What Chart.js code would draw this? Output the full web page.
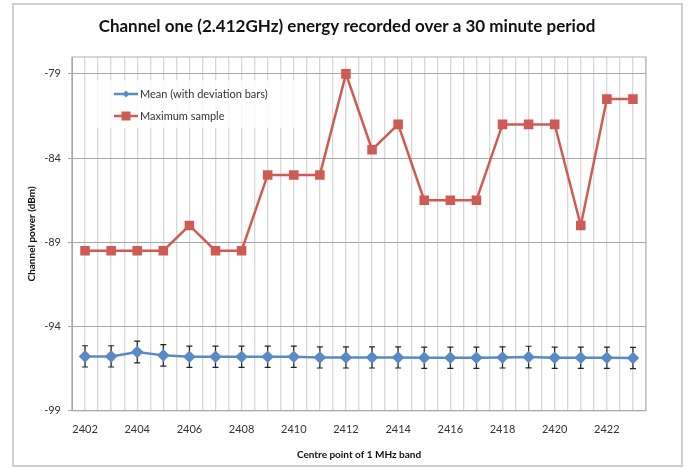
<!DOCTYPE html>
<html>
<head>
<meta charset="utf-8">
<script src="https://cdn.jsdelivr.net/npm/chart.js@4.4.1/dist/chart.umd.min.js"></script>
<style>
  html, body { margin: 0; padding: 0; background: #fff; }
  .wrap { width: 694px; height: 468px; position: relative; }
</style>
</head>
<body>
<div class="wrap"><canvas id="chan"></canvas></div>
<script>
const bands = [2402, 2403, 2404, 2405, 2406, 2407, 2408, 2409, 2410, 2411, 2412,
  2413, 2414, 2415, 2416, 2417, 2418, 2419, 2420, 2421, 2422, 2423];
const meanPower = [-95.77, -95.77, -95.51, -95.71, -95.79, -95.79, -95.79, -95.79, -95.79, -95.83, -95.83,
  -95.83, -95.83, -95.85, -95.85, -95.85, -95.83, -95.81, -95.85, -95.85, -95.85, -95.87];
const deviation = [0.63, 0.63, 0.65, 0.64, 0.63, 0.63, 0.63, 0.63, 0.63, 0.63, 0.63,
  0.63, 0.63, 0.63, 0.63, 0.63, 0.63, 0.64, 0.63, 0.63, 0.63, 0.63];
const maxSample = [-89.5, -89.5, -89.5, -89.5, -88, -89.5, -89.5, -85, -85, -85, -79,
  -83.5, -82, -86.5, -86.5, -86.5, -82, -82, -82, -88, -80.5, -80.5];
const yTicks = [-99, -94, -89, -84, -79];
const xLabels = [2402, 2404, 2406, 2408, 2410, 2412, 2414, 2416, 2418, 2420, 2422];

const chartTitle = 'Channel one (2.412GHz) energy recorded over a 30 minute period';
const seriesNames = ['Mean (with deviation bars)', 'Maximum sample'];
const blue = '#5a8ac6';
const red = '#cf5b55';
const font = 'Lato, "Open Sans", sans-serif';

// error bars behind the mean markers
const errorBars = {
  id: 'errorBars',
  beforeDatasetsDraw(chart) {
    const ctx = chart.ctx;
    const y = chart.scales.y;
    const meta = chart.getDatasetMeta(0);
    ctx.save();
    ctx.strokeStyle = '#222';
    ctx.lineWidth = 1.2;
    meta.data.forEach((pt, i) => {
      const top = y.getPixelForValue(meanPower[i] + deviation[i]);
      const bot = y.getPixelForValue(meanPower[i] - deviation[i]);
      ctx.beginPath();
      ctx.moveTo(pt.x, top); ctx.lineTo(pt.x, bot);
      ctx.moveTo(pt.x - 3, top); ctx.lineTo(pt.x + 3, top);
      ctx.moveTo(pt.x - 3, bot); ctx.lineTo(pt.x + 3, bot);
      ctx.stroke();
    });
    ctx.restore();
  }
};

// plot border, outer frame, title and the in-plot legend
const decor = {
  id: 'decor',
  beforeDatasetsDraw(chart) {
    const { ctx, chartArea: a } = chart;
    ctx.save();
    ctx.strokeStyle = '#b0b0b0';
    ctx.lineWidth = 1;
    ctx.strokeRect(a.left, a.top, a.right - a.left, a.bottom - a.top);
    ctx.restore();
  },
  afterDraw(chart) {
    const ctx = chart.ctx;
    ctx.save();
    ctx.strokeStyle = '#cfcfcf';
    ctx.lineWidth = 2;
    ctx.strokeRect(13, 4, 669, 462);

    ctx.fillStyle = '#111';
    ctx.font = 'bold 17px ' + font;
    ctx.textAlign = 'center';
    ctx.textBaseline = 'middle';
    ctx.fillText(chartTitle, 347, 27);
    ctx.textAlign = 'left';

    ctx.fillStyle = 'rgba(255,255,255,0.85)';
    ctx.fillRect(97, 80, 205, 48);

    const rows = [
      { y: 94, color: blue, shape: 'diamond' },
      { y: 116, color: red, shape: 'square' }
    ];
    rows.forEach((r, i) => {
      ctx.strokeStyle = r.color;
      ctx.fillStyle = r.color;
      ctx.lineWidth = 2.5;
      ctx.beginPath();
      ctx.moveTo(114, r.y); ctx.lineTo(138, r.y);
      ctx.stroke();
      ctx.beginPath();
      if (r.shape === 'diamond') {
        ctx.moveTo(126, r.y - 3.5); ctx.lineTo(129.5, r.y);
        ctx.lineTo(126, r.y + 3.5); ctx.lineTo(122.5, r.y);
      } else {
        ctx.rect(121.5, r.y - 4.5, 9, 9);
      }
      ctx.fill();
      ctx.fillStyle = '#333';
      ctx.font = '11px ' + font;
      ctx.textBaseline = 'middle';
      ctx.fillText(seriesNames[i], 140, r.y);
    });
    ctx.restore();
  }
};

new Chart(document.getElementById('chan'), {
  type: 'line',
  data: {
    datasets: [{
      label: seriesNames[0],
      data: bands.map((b, i) => ({ x: b, y: meanPower[i] })),
      borderColor: blue,
      backgroundColor: blue,
      borderWidth: 2.5,
      pointStyle: 'rectRot',
      pointRadius: 4.5,
      tension: 0
    }, {
      label: seriesNames[1],
      data: bands.map((b, i) => ({ x: b, y: maxSample[i] })),
      borderColor: red,
      backgroundColor: red,
      borderWidth: 2.5,
      pointStyle: 'rect',
      pointRadius: 5,
      tension: 0
    }]
  },
  options: {
    responsive: true,
    maintainAspectRatio: false,
    animation: false,
    layout: { padding: { left: 22, right: 48, top: 57, bottom: 3 } },
    plugins: {
      legend: { display: false },
      tooltip: { enabled: false },
      title: { display: false }
    },
    scales: {
      x: {
        type: 'linear',
        min: bands[0] - 0.5,
        max: bands[bands.length - 1] + 0.5,
        afterBuildTicks(scale) {
          const t = [];
          for (let i = 0; i <= bands.length * 2; i++) t.push({ value: bands[0] - 0.5 + i / 2 });
          scale.ticks = t;
        },
        grid: { color: '#d8d8d8', lineWidth: 1.3, drawTicks: false },
        border: { color: '#a0a0a0' },
        ticks: {
          autoSkip: false,
          maxRotation: 0,
          padding: 12,
          color: '#333',
          font: { family: font, size: 11 },
          callback: v => (xLabels.includes(v) ? String(v) : '')
        },
        title: {
          display: true,
          text: 'Centre point of 1 MHz band',
          color: '#111',
          font: { family: font, size: 10, weight: 'bold' },
          padding: { top: 1 }
        }
      },
      y: {
        min: -99,
        max: -78,
        afterBuildTicks(scale) {
          scale.ticks = yTicks.map(v => ({ value: v }));
        },
        afterFit(scale) { scale.width = 50; },
        grid: { color: '#a8a8a8', lineWidth: 1, tickLength: 4 },
        border: { color: '#a0a0a0' },
        ticks: {
          padding: 7,
          color: '#333',
          font: { family: font, size: 11 }
        },
        title: {
          display: true,
          text: 'Channel power (dBm)',
          color: '#111',
          font: { family: font, size: 10, weight: 'bold' },
          padding: { bottom: 2 }
        }
      }
    }
  },
  plugins: [errorBars, decor]
});
</script>
</body>
</html>
